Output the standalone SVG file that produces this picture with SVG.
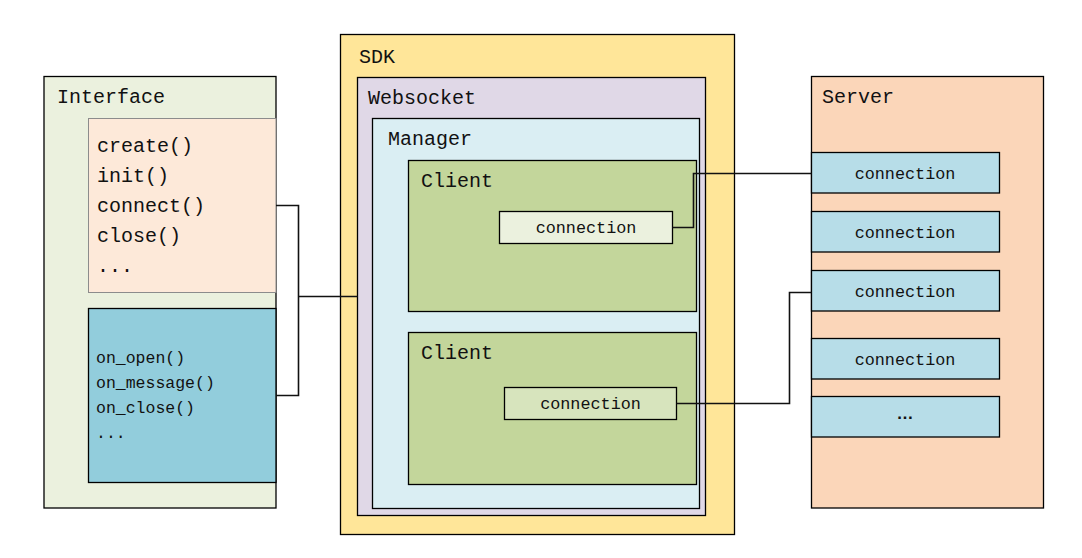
<svg xmlns="http://www.w3.org/2000/svg" width="1082" height="558" viewBox="0 0 1082 558">
<style>
.b{stroke:#000;stroke-width:1.3}
.t{font-family:"Liberation Mono","DejaVu Sans Mono",monospace;font-size:20px;fill:#111}
.s{font-family:"Liberation Mono","DejaVu Sans Mono",monospace;font-size:16.5px;fill:#111}
.c{font-family:"Liberation Mono","DejaVu Sans Mono",monospace;font-size:16.8px;fill:#111;text-anchor:middle}
.w{fill:none;stroke:#111;stroke-width:1.6}
</style>
<rect width="1082" height="558" fill="#fff"/>
<g id="interface">
<rect class="b" x="44" y="76.5" width="232" height="431.5" fill="#ebf1de"/>
<text class="t" x="57" y="103">Interface</text>
</g>
<g id="methods">
<rect x="88.5" y="118.5" width="187.5" height="174" fill="#fde9d9" stroke="#8c8c8c" stroke-width="1"/>
<text class="t" x="97" y="152">create()</text>
<text class="t" x="97" y="182">init()</text>
<text class="t" x="97" y="212">connect()</text>
<text class="t" x="97" y="242">close()</text>
<text class="t" x="97" y="272">...</text>
</g>
<g id="callbacks">
<rect class="b" x="88.5" y="308.5" width="187.5" height="174" fill="#92cddc"/>
<text class="s" x="96" y="363">on_open()</text>
<text class="s" x="96" y="388">on_message()</text>
<text class="s" x="96" y="413">on_close()</text>
<text class="s" x="96" y="438">...</text>
</g>
<g id="sdk">
<rect class="b" x="340.5" y="34.5" width="394" height="500" fill="#ffe699"/>
<text class="t" x="359" y="63">SDK</text>
</g>
<g id="websocket">
<rect class="b" x="357.5" y="77.5" width="348" height="438" fill="#e0d8e7"/>
<text class="t" x="368" y="104">Websocket</text>
</g>
<g id="manager">
<rect class="b" x="372.5" y="118.5" width="327" height="390" fill="#daeef3"/>
<text class="t" x="388" y="145">Manager</text>
</g>
<g id="client1">
<rect class="b" x="408.5" y="160.5" width="288" height="151" fill="#c3d69b"/>
<text class="t" x="421" y="187">Client</text>
</g>
<g id="client1-connection">
<rect class="b" x="499.5" y="211.5" width="173" height="32" fill="#ebf1de"/>
<text class="c" x="586" y="233">connection</text>
</g>
<g id="client2">
<rect class="b" x="408.5" y="332.5" width="288" height="152" fill="#c3d69b"/>
<text class="t" x="421" y="359">Client</text>
</g>
<g id="client2-connection">
<rect class="b" x="504.5" y="387.5" width="172" height="32" fill="#d7e4bd"/>
<text class="c" x="590.5" y="409">connection</text>
</g>
<g id="server">
<rect class="b" x="811.5" y="76.5" width="232" height="431.5" fill="#fbd6b9"/>
<text class="t" x="822" y="103">Server</text>
</g>
<g id="server-conn1">
<rect class="b" x="811.5" y="152.5" width="188" height="40.5" fill="#b7dde8"/>
<text class="c" x="905" y="179">connection</text>
</g>
<g id="server-conn2">
<rect class="b" x="811.5" y="211.5" width="188" height="40.5" fill="#b7dde8"/>
<text class="c" x="905" y="238">connection</text>
</g>
<g id="server-conn3">
<rect class="b" x="811.5" y="270.5" width="188" height="40.5" fill="#b7dde8"/>
<text class="c" x="905" y="297">connection</text>
</g>
<g id="server-conn4">
<rect class="b" x="811.5" y="338.5" width="188" height="40.5" fill="#b7dde8"/>
<text class="c" x="905" y="365">connection</text>
</g>
<g id="server-conn5">
<rect class="b" x="811.5" y="396.5" width="188" height="40.5" fill="#b7dde8"/>
<text x="905" y="419" font-family="Liberation Sans, Arial, sans-serif" font-size="17" font-weight="bold" fill="#111" text-anchor="middle">…</text>
</g>
<g id="connectors">
<path class="w" d="M276 205.5 H298.5 V395.5 H276"/>
<path class="w" d="M298.5 296.5 H357.5"/>
<path class="w" d="M672.5 227.5 H693.5 V173.5 H811.5"/>
<path class="w" d="M676.5 403.5 H789.5 V292.5 H811.5"/>
</g>
</svg>
